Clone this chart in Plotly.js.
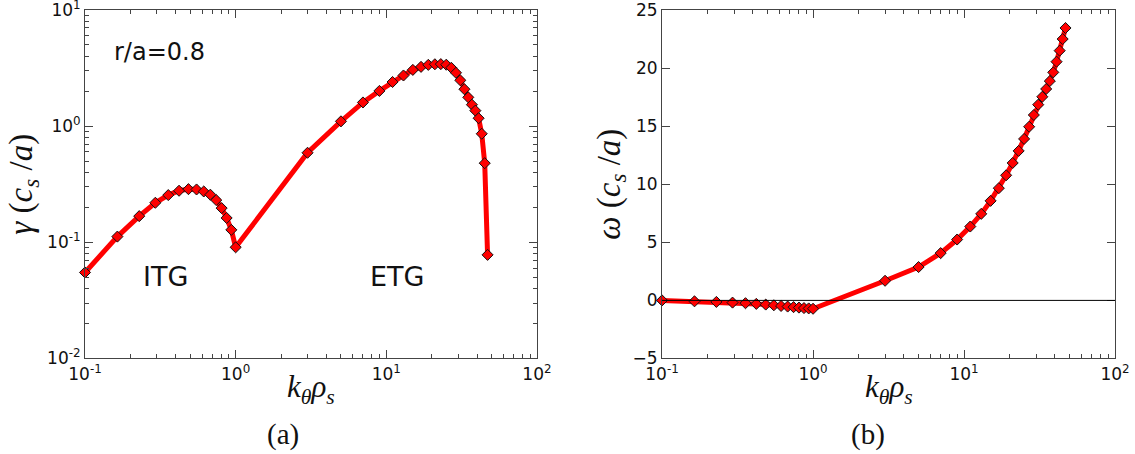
<!DOCTYPE html>
<html>
<head>
<meta charset="utf-8">
<script src="https://cdn.plot.ly/plotly-3.0.1.min.js"></script>
<style>html,body{margin:0;padding:0;background:#fff;}#chart{width:1135px;height:454px;}</style>
</head>
<body>
<div id="chart"></div>
<script>
// ---- data ----
var kITG = [0.1, 0.164, 0.229, 0.293, 0.357, 0.421, 0.486, 0.55, 0.614, 0.679, 0.743, 0.807, 0.871, 0.936, 1.0];
var kETG = [3, 5, 7, 9, 11, 13, 15, 17, 19, 21, 23, 25, 27, 29, 31, 33, 35, 37, 39, 41, 43, 45, 47];
var gammaITG = [0.055, 0.112, 0.168, 0.219, 0.255, 0.278, 0.287, 0.285, 0.274, 0.257, 0.231, 0.197, 0.162, 0.128, 0.0906];
var gammaETG = [0.59, 1.10, 1.60, 2.01, 2.40, 2.73, 3.05, 3.24, 3.37, 3.41, 3.42, 3.38, 3.18, 2.88, 2.48, 2.08, 1.77, 1.53, 1.36, 1.17, 0.86, 0.48, 0.078];
var omegaITG = [0.0, -0.08, -0.13, -0.19, -0.24, -0.30, -0.36, -0.42, -0.48, -0.53, -0.58, -0.62, -0.66, -0.69, -0.72];
var omegaETG = [1.69, 2.87, 4.07, 5.24, 6.36, 7.45, 8.57, 9.66, 10.77, 11.83, 12.87, 13.90, 14.95, 15.96, 16.85, 17.53, 18.2, 18.88, 19.63, 20.55, 21.5, 22.5, 23.45];
var logTickVals = [0.1, 1, 10, 100];
var logTickText = ['10<sup>-1</sup>', '10<sup>0</sup>', '10<sup>1</sup>', '10<sup>2</sup>'];
var gammaTickVals = [0.01, 0.1, 1, 10];
var gammaTickText = ['10<sup>-2</sup>', '10<sup>-1</sup>', '10<sup>0</sup>', '10<sup>1</sup>'];
var omegaTickVals = [-5, 0, 5, 10, 15, 20, 25];
var omegaTickText = ['\u22125', '0', '5', '10', '15', '20', '25'];

var k = kITG.concat(kETG);
var gamma = gammaITG.concat(gammaETG);
var omega = omegaITG.concat(omegaETG);

var axisColor = '#444';
var tickFont = {family: 'DejaVu Sans', size: 17, color: '#111'};
var xTitleFont = {family: 'Liberation Serif', size: 31, color: '#111'};
var yTitleFont = {family: 'Liberation Serif', size: 33, color: '#111'};
var xTitle = '<i>k</i><sub><i>θ</i></sub><i>ρ</i><sub><i>s</i></sub>';

function baseAxis() {
  return {
    showgrid: false, zeroline: false, showline: true, mirror: 'allticks',
    linecolor: axisColor, linewidth: 1, ticks: 'inside', ticklen: 8, tickwidth: 1,
    tickcolor: axisColor, tickfont: tickFont, ticklabeloverflow: 'allow'
  };
}
function logMinor() {
  return {ticks: 'inside', ticklen: 4, tickwidth: 1, tickcolor: axisColor, dtick: 'D1', showgrid: false};
}

var dom1 = [0.0749, 0.4731], dom2 = [0.5833, 0.9824];
var xa1 = baseAxis();
Object.assign(xa1, {type: 'log', range: [-1, 2], domain: dom1, anchor: 'y',
  tickmode: 'array', tickvals: logTickVals, ticktext: logTickText, minor: logMinor()});
var ya1 = baseAxis();
Object.assign(ya1, {type: 'log', range: [-2, 1], domain: [0.2104, 0.978], anchor: 'x',
  tickmode: 'array', tickvals: gammaTickVals, ticktext: gammaTickText, minor: logMinor(),
  title: {text: '<i>γ</i> (<i>c</i><sub><i>s</i></sub> /<i>a</i>)', font: yTitleFont, standoff: 4}});
var xa2 = baseAxis();
Object.assign(xa2, {type: 'log', range: [-1, 2], domain: dom2, anchor: 'y2',
  tickmode: 'array', tickvals: logTickVals, ticktext: logTickText, minor: logMinor()});
var ya2 = baseAxis();
Object.assign(ya2, {range: [-5, 25], domain: [0.2104, 0.978], anchor: 'x2',
  tickmode: 'array', tickvals: omegaTickVals, ticktext: omegaTickText,
  title: {text: '<i>ω</i> (<i>c</i><sub><i>s</i></sub> /<i>a</i>)', font: yTitleFont, standoff: 2}});

var lineStyle = {color: '#ff0000', width: 5};
var markerStyle = {symbol: 'diamond', size: 8.5, color: '#ff0000', line: {color: '#111', width: 1}};

var traces = [
  {x: k, y: gamma, xaxis: 'x', yaxis: 'y', mode: 'lines+markers', line: lineStyle, marker: markerStyle, showlegend: false, cliponaxis: false},
  {x: k, y: omega, xaxis: 'x2', yaxis: 'y2', mode: 'lines+markers', line: lineStyle, marker: markerStyle, showlegend: false, cliponaxis: false}
];

var annFont = {family: 'DejaVu Sans', color: '#111'};
var xTitleY = 1 - 389 / 454;
var layout = {
  width: 1135, height: 454,
  margin: {l: 0, r: 0, t: 0, b: 0},
  paper_bgcolor: '#fff', plot_bgcolor: '#fff',
  xaxis: xa1, yaxis: ya1, xaxis2: xa2, yaxis2: ya2,
  shapes: [
    {type: 'line', xref: 'x2 domain', yref: 'y2', x0: 0, x1: 1, y0: 0, y1: 0, line: {color: '#000', width: 1}, layer: 'above'}
  ],
  annotations: [
    {xref: 'paper', yref: 'paper', x: (dom1[0] + dom1[1]) / 2, y: xTitleY, xanchor: 'center', yanchor: 'middle', showarrow: false,
     text: xTitle, font: xTitleFont},
    {xref: 'paper', yref: 'paper', x: (dom2[0] + dom2[1]) / 2, y: xTitleY, xanchor: 'center', yanchor: 'middle', showarrow: false,
     text: xTitle, font: xTitleFont},
    {xref: 'x', yref: 'y', x: -0.821, y: 0.639, xanchor: 'left', yanchor: 'middle', showarrow: false,
     text: 'r/a=0.8', font: Object.assign({size: 24}, annFont)},
    {xref: 'x', yref: 'y', x: -0.469, y: -1.296, xanchor: 'center', yanchor: 'middle', showarrow: false,
     text: 'ITG', font: Object.assign({size: 27}, annFont)},
    {xref: 'x', yref: 'y', x: 1.07, y: -1.296, xanchor: 'center', yanchor: 'middle', showarrow: false,
     text: 'ETG', font: Object.assign({size: 27}, annFont)},
    {xref: 'paper', yref: 'paper', x: 283 / 1135, y: 1 - 434 / 454, xanchor: 'center', yanchor: 'middle', showarrow: false,
     text: '(a)', font: {family: 'Liberation Serif', size: 29, color: '#111'}},
    {xref: 'paper', yref: 'paper', x: 868 / 1135, y: 1 - 434 / 454, xanchor: 'center', yanchor: 'middle', showarrow: false,
     text: '(b)', font: {family: 'Liberation Serif', size: 29, color: '#111'}}
  ]
};

Plotly.newPlot('chart', traces, layout, {displayModeBar: false, staticPlot: true});
</script>
</body>
</html>
